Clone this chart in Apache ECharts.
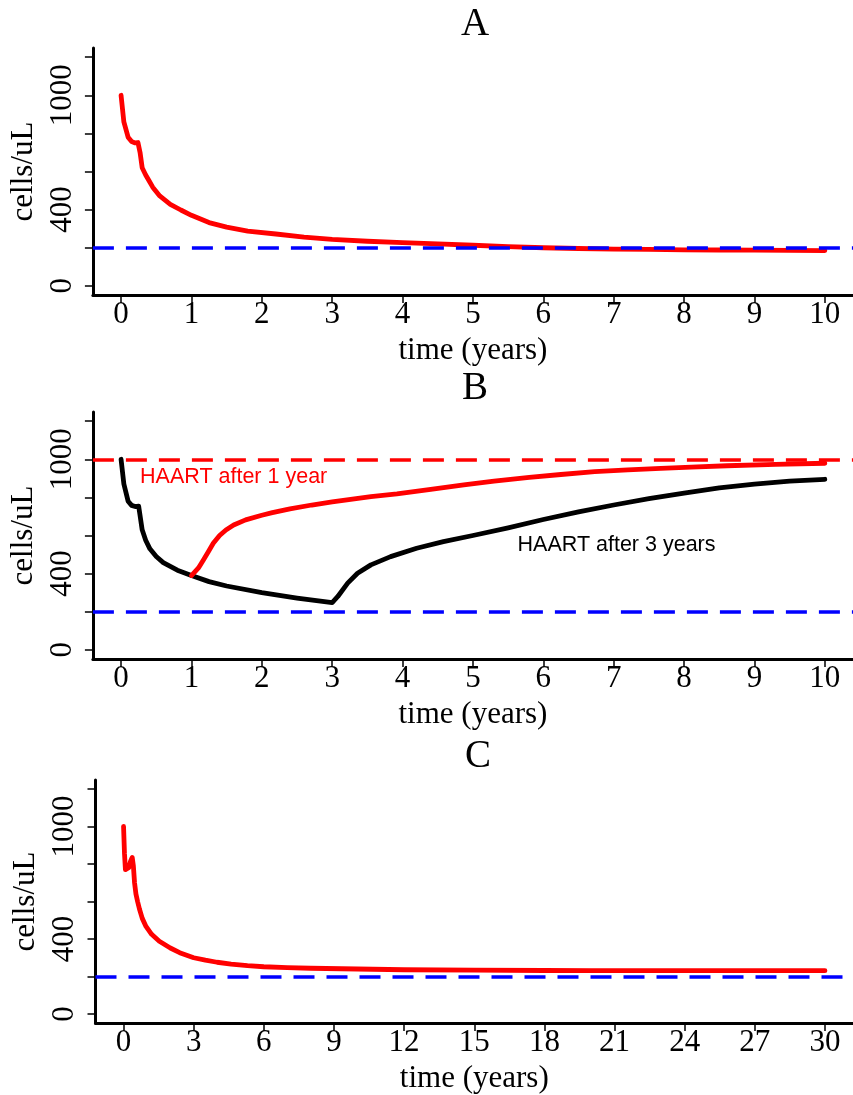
<!DOCTYPE html>
<html>
<head>
<meta charset="utf-8">
<script src="https://cdn.jsdelivr.net/npm/echarts@6/dist/echarts.min.js"></script>
<style>
  html, body { margin: 0; padding: 0; background: #fff; }
  #chart { width: 853px; height: 1095px; }
</style>
</head>
<body>
<div id="chart"></div>
<script>
// panel A: no treatment, 10 years
const yearsA = [0, 0.04, 0.1, 0.15, 0.2, 0.24, 0.27, 0.3, 0.35, 0.4, 0.45, 0.55, 0.7, 0.85, 1.0, 1.25, 1.5, 1.8, 2.2, 2.6, 3.0, 3.5, 4.0, 4.5, 5.0, 5.5, 6.0, 6.5, 7.0, 7.5, 8.0, 8.5, 9.0, 9.5, 10]
const cellsA = [1000, 860, 780, 757, 750, 752, 700, 620, 582, 550, 518, 472, 428, 398, 370, 332, 308, 287, 272, 256, 244, 234, 227, 220, 213, 206, 200, 196, 193, 191, 189, 188, 187, 186, 185]

// panel B: HAART after 3 years (black)
const yearsB3 = [0, 0.04, 0.1, 0.15, 0.2, 0.25, 0.27, 0.3, 0.35, 0.41, 0.5, 0.6, 0.8, 1.0, 1.25, 1.5, 2.0, 2.5, 3.0, 3.08, 3.22, 3.36, 3.55, 3.83, 4.2, 4.58, 5.0, 5.5, 6.0, 6.5, 7.0, 7.5, 8.0, 8.5, 9.0, 9.5, 10]
const cellsB3 = [1000, 870, 780, 758, 752, 754, 705, 630, 575, 530, 490, 458, 418, 390, 358, 335, 300, 272, 248, 280, 350, 402, 446, 489, 533, 568, 600, 640, 684, 724, 760, 793, 822, 850, 870, 885, 895]

// panel B: HAART after 1 year (red)
const yearsB1 = [1.0, 1.1, 1.17, 1.24, 1.31, 1.4, 1.49, 1.6, 1.77, 2.0, 2.15, 2.4, 2.71, 3.0, 3.55, 3.92, 4.4, 4.87, 5.3, 5.8, 6.25, 6.73, 7.2, 7.67, 8.1, 8.61, 9.3, 10]
const cellsB1 = [390, 430, 472, 515, 559, 600, 629, 655, 682, 706, 720, 740, 760, 776, 804, 818, 842, 865, 885, 905, 920, 935, 944, 952, 959, 966, 973, 979]

// panel C: 30 years
const yearsC = [0, 0.04, 0.08, 0.14, 0.22, 0.3, 0.37, 0.42, 0.47, 0.53, 0.6, 0.68, 0.8, 0.96, 1.2, 1.53, 2.0, 2.4, 3.0, 3.5, 4.0, 4.6, 5.3, 6.0, 7.0, 8.0, 10, 12, 15, 18, 20, 25, 30]
const cellsC = [1000, 855, 770, 760, 780, 815, 835, 790, 700, 640, 600, 560, 510, 467, 425, 388, 352, 327, 300, 287, 276, 266, 258, 252, 247, 244, 240, 236, 234, 232, 231, 231, 231]

const cd4Threshold = 200
const healthyLevel = 1000

const noteText = ['HAART after 1 year', 'HAART after 3 years']
const noteYears = [1.6, 7.04]
const noteCells = [907, 549]
const noteColors = ['#ff0000', '#000000']

const yTicks = [0, 200, 400, 600, 800, 1000, 1200]
const yLabels = [0, 400, 1000]
const xTicks10 = [0, 1, 2, 3, 4, 5, 6, 7, 8, 9, 10]
const xTicks30 = [0, 3, 6, 9, 12, 15, 18, 21, 24, 27, 30]
const panelTitles = ['A', 'B', 'C']

const serif = 'Liberation Serif'
const pair = (xs, ys) => xs.map((x, i) => [x, ys[i]])

const xAxisFor = function (gridIndex, ticks, min, max) {
  return {
    type: 'value', gridIndex, min, max,
    name: 'time (years)', nameLocation: 'middle', nameGap: 40,
    nameTextStyle: {fontFamily: serif, fontSize: 31, color: '#000'},
    axisLine: {onZero: false, lineStyle: {color: '#000', width: 3}},
    axisTick: {customValues: ticks, length: 8, lineStyle: {color: '#000', width: 1.5}},
    axisLabel: {customValues: ticks, margin: 4, fontFamily: serif, fontSize: 31, color: '#000',
      formatter: v => String(v)},
    splitLine: {show: false},
  }
}

const yAxisFor = function (gridIndex) {
  return {
    type: 'value', gridIndex, min: -48, max: 1248,
    name: 'cells/uL', nameLocation: 'middle', nameGap: 43, nameRotate: 90,
    nameTextStyle: {fontFamily: serif, fontSize: 31, color: '#000'},
    axisLine: {onZero: false, lineStyle: {color: '#000', width: 3}},
    axisTick: {customValues: yTicks, length: 8, lineStyle: {color: '#000', width: 1.5}},
    axisLabel: {customValues: yLabels, rotate: 90, margin: 15, fontFamily: serif, fontSize: 31, color: '#000',
      formatter: v => String(v)},
    splitLine: {show: false},
  }
}

const curve = function (idx, data, color) {
  return {
    type: 'line', xAxisIndex: idx, yAxisIndex: idx, data,
    symbol: 'none', smooth: false, silent: true, z: 3,
    lineStyle: {color, width: 4.8, cap: 'round', join: 'round'},
  }
}

const hline = function (idx, value, color) {
  return {
    type: 'line', xAxisIndex: idx, yAxisIndex: idx, data: [], z: 4,
    markLine: {
      silent: true, symbol: ['none', 'none'], label: {show: false},
      lineStyle: {color, width: 3.5, type: [21, 12], cap: 'butt'},
      data: [{yAxis: value}],
    },
  }
}

const titleTops = [5, 369, 737]
const titleLefts = [475, 475, 478]

const chart = echarts.init(document.getElementById('chart'), null, {renderer: 'canvas'})

chart.setOption({
  backgroundColor: '#fff',
  animation: false,
  title: panelTitles.map((t, i) => ({
    text: t, left: titleLefts[i], top: titleTops[i], textAlign: 'center', padding: 0,
    textStyle: {fontFamily: serif, fontSize: 39, fontWeight: 'normal', color: '#000'},
  })),
  grid: [
    {left: 92, top: 48, width: 769, height: 247},
    {left: 92, top: 412, width: 769, height: 247},
    {left: 95.5, top: 780, width: 769, height: 248},
  ],
  xAxis: [
    xAxisFor(0, xTicks10, -0.4, 10.4),
    xAxisFor(1, xTicks10, -0.4, 10.4),
    xAxisFor(2, xTicks30, -1.2, 31.2),
  ],
  yAxis: [yAxisFor(0), yAxisFor(1), yAxisFor(2)],
  series: [
    curve(0, pair(yearsA, cellsA), '#ff0000'),
    hline(0, cd4Threshold, '#0000ff'),

    curve(1, pair(yearsB3, cellsB3), '#000000'),
    curve(1, pair(yearsB1, cellsB1), '#ff0000'),
    hline(1, cd4Threshold, '#0000ff'),
    hline(1, healthyLevel, '#ff0000'),
    {
      type: 'scatter', xAxisIndex: 1, yAxisIndex: 1, silent: true, z: 5,
      symbolSize: 1, itemStyle: {color: 'rgba(0,0,0,0)'},
      data: noteText.map((s, i) => ({
        name: s, value: [noteYears[i], noteCells[i]],
        label: {color: noteColors[i]},
      })),
      label: {show: true, position: 'inside', formatter: '{b}', opacity: 1,
        textBorderWidth: 0, fontFamily: 'Liberation Sans', fontSize: 21.5},
    },

    curve(2, pair(yearsC, cellsC), '#ff0000'),
    hline(2, cd4Threshold, '#0000ff'),
  ],
})
</script>
</body>
</html>
